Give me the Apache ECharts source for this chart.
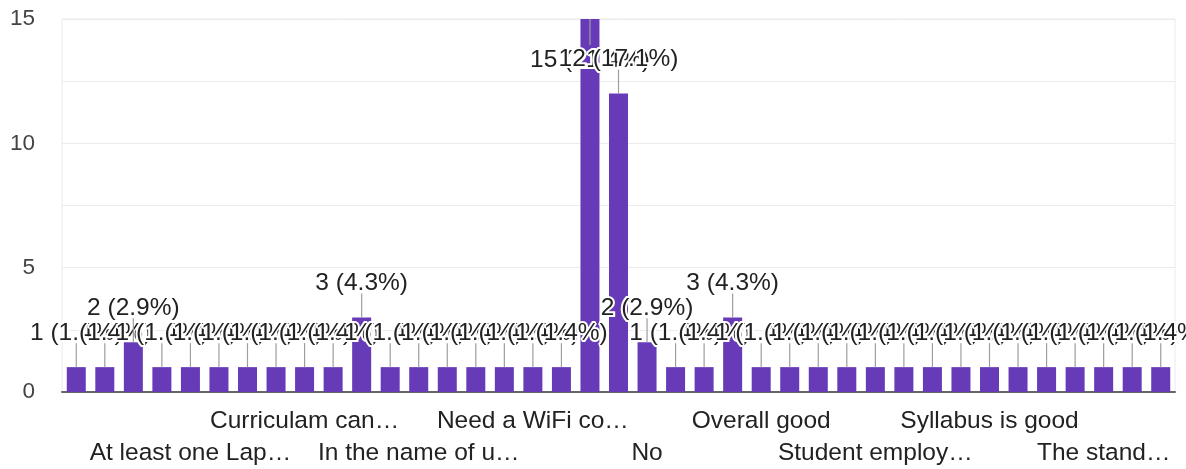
<!DOCTYPE html>
<html>
<head>
<meta charset="utf-8">
<script src="https://cdn.jsdelivr.net/npm/echarts@6/dist/echarts.min.js"></script>
<style>html,body{margin:0;padding:0;background:#fff}#c{width:1186px;height:469px}</style>
</head>
<body>
<div id="c"></div>
<script>
const categories = [
  "A good one", "Add more practicals", "All good", "Art and design", "At least one Lap…",
  "Better labs", "Better placements", "Canteen facility", "Curriculam can…", "Excellent",
  "Good", "Good infrastructure", "In the name of u…", "It is good", "Library needed",
  "More sports", "Need a WiFi co…", "Need more labs", "Nil", "Nill",
  "No", "Nothing", "Ok", "Okay", "Overall good",
  "Practical classes", "Satisfied", "Sports facilities", "Student employ…", "Study tours",
  "Super", "Syllabus", "Syllabus is good", "Teaching is good", "Thank you",
  "The faculty is good", "The stand…", "Very good", "Wifi needed"
];
const counts = [
  1, 1, 2, 1, 1,
  1, 1, 1, 1, 1,
  3, 1, 1, 1, 1,
  1, 1, 1, 15, 12,
  2, 1, 1, 3, 1,
  1, 1, 1, 1, 1,
  1, 1, 1, 1, 1,
  1, 1, 1, 1
];
const yTicks = [0, 5, 10, 15];

const total = counts.reduce((a, b) => a + b, 0);
const FONT = "'Liberation Sans', Arial, sans-serif";
const chart = echarts.init(document.getElementById('c'), null, {renderer: 'canvas'});

const labelBase = {color: '#222', fontFamily: FONT, fontSize: 24.5, hideOverlap: false};

chart.setOption({
  animation: false,
  grid: {left: 62, right: 11, top: 19, bottom: 77, show: true, borderColor: '#ebebeb', borderWidth: 1, containLabel: false},
  xAxis: [
    {
      type: 'category',
      data: categories,
      position: 'bottom',
      axisLine: {lineStyle: {color: '#666', width: 2}},
      axisTick: {show: false},
      axisLabel: Object.assign({}, labelBase, {
        interval: (i) => i % 8 === 0 && i > 0,
        margin: 17
      })
    },
    {
      type: 'category',
      data: categories,
      position: 'bottom',
      offset: 0,
      axisLine: {show: false},
      axisTick: {show: false},
      splitLine: {show: false},
      axisLabel: Object.assign({}, labelBase, {
        interval: (i) => i % 8 === 4,
        margin: 49
      })
    }
  ],
  yAxis: {
    type: 'value',
    min: 0, max: 15, interval: 2.5,
    axisLine: {show: false},
    axisTick: {show: false},
    splitLine: {lineStyle: {color: '#ebebeb', width: 1}},
    axisLabel: {
      formatter: (v) => (yTicks.indexOf(v) >= 0 ? String(v) : ''),
      color: '#444',
      fontFamily: FONT,
      fontSize: 22.5,
      margin: 27
    }
  },
  series: [
    {
      type: 'bar',
      xAxisIndex: 0,
      data: counts,
      barWidth: 19,
      itemStyle: {color: '#673ab7'}
    },
    {
      type: 'custom',
      xAxisIndex: 0,
      data: counts.map((v, i) => [i, v]),
      z: 5,
      renderItem: (params, api) => {
        const i = api.value(0), v = api.value(1);
        const p = api.coord([i, v]);
        const top = params.coordSys.y;
        let y2, ty;
        if (p[1] - 34 - 12 < top) { y2 = p[1] + 26; ty = p[1] + 41; }
        else { y2 = p[1] - 24; ty = p[1] - 34; }
        const txt = v + ' (' + (v / total * 100).toFixed(1) + '%)';
        return {
          type: 'group',
          children: [
            {type: 'line', shape: {x1: p[0], y1: p[1], x2: p[0], y2: y2}, style: {stroke: '#9e9e9e', lineWidth: 1.2}},
            {type: 'text', style: {text: txt, x: p[0], y: ty, align: 'center', verticalAlign: 'middle',
              fontFamily: FONT, fontSize: 24.5, fill: '#222', stroke: '#fff', lineWidth: 4}}
          ]
        };
      }
    }
  ]
});
</script>
</body>
</html>
